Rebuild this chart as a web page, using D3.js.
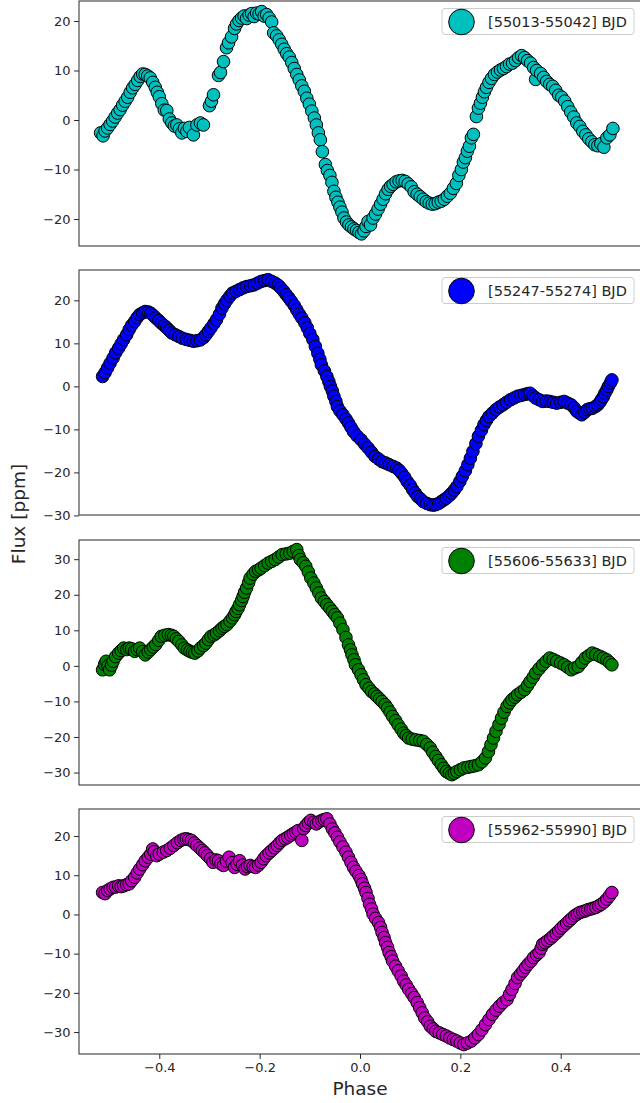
<!DOCTYPE html>
<html><head><meta charset="utf-8">
<script src="https://cdn.jsdelivr.net/npm/d3@7"></script>
<style>body{margin:0;background:#fff}svg{display:block}</style>
</head><body>
<svg id="chart" width="640" height="1103"></svg>
<script>
// ---- Data ----
const phase1 = [-0.517,-0.512,-0.508,-0.503,-0.498,-0.493,-0.488,-0.483,-0.478,-0.473,-0.468,-0.463,-0.458,-0.453,-0.448,-0.443,-0.438,-0.433,-0.428,-0.423,-0.418,-0.413,-0.408,-0.404,-0.400,-0.395,-0.390,-0.385,-0.380,-0.375,-0.370,-0.365,-0.360,-0.355,-0.350,-0.345,-0.340,-0.332,-0.325,-0.318,-0.312,-0.300,-0.296,-0.292,-0.282,-0.278,-0.272,-0.266,-0.262,-0.256,-0.250,-0.246,-0.241,-0.236,-0.231,-0.226,-0.221,-0.216,-0.211,-0.206,-0.201,-0.196,-0.191,-0.186,-0.181,-0.176,-0.172,-0.166,-0.161,-0.156,-0.151,-0.146,-0.141,-0.136,-0.131,-0.126,-0.121,-0.116,-0.111,-0.106,-0.101,-0.096,-0.091,-0.087,-0.083,-0.079,-0.075,-0.069,-0.065,-0.060,-0.056,-0.052,-0.048,-0.044,-0.040,-0.036,-0.032,-0.027,-0.022,-0.017,-0.012,-0.007,-0.002,0.003,0.008,0.012,0.016,0.021,0.026,0.031,0.036,0.041,0.046,0.051,0.056,0.061,0.066,0.072,0.078,0.084,0.090,0.096,0.102,0.108,0.114,0.120,0.126,0.132,0.138,0.144,0.150,0.156,0.162,0.168,0.174,0.180,0.186,0.192,0.197,0.202,0.206,0.210,0.214,0.218,0.222,0.226,0.232,0.236,0.240,0.244,0.248,0.252,0.257,0.262,0.268,0.274,0.280,0.286,0.292,0.298,0.304,0.310,0.316,0.322,0.328,0.334,0.340,0.346,0.350,0.352,0.360,0.366,0.372,0.378,0.384,0.390,0.396,0.402,0.408,0.414,0.420,0.426,0.432,0.438,0.444,0.450,0.456,0.462,0.468,0.474,0.480,0.486,0.492,0.498,0.504];
const flux1 = [-2.6,-3.2,-2.2,-1.6,-0.9,-0.2,0.6,1.4,2.1,3.0,3.8,4.6,5.6,6.5,7.2,8.0,8.8,9.3,9.2,8.9,8.5,7.6,6.6,5.6,4.7,3.3,2.0,1.9,0.2,-0.6,-1.2,-1.0,-1.8,-2.6,-1.7,-2.3,-1.5,-3.0,-1.0,-0.6,-1.0,2.9,3.8,5.1,9.0,9.6,11.8,14.6,15.6,16.8,18.5,19.4,20.1,20.6,21.0,20.5,21.2,21.5,20.9,21.6,21.4,21.9,21.0,21.3,20.6,19.8,17.6,17.0,16.2,15.3,14.3,13.4,12.7,11.6,10.4,9.2,8.1,6.9,5.8,4.4,3.2,1.8,0.4,-1.0,-2.6,-4.0,-6.4,-9.0,-10.2,-11.2,-12.6,-14.4,-15.6,-16.6,-17.6,-18.6,-19.8,-20.6,-21.2,-21.6,-22.0,-22.3,-22.7,-23.0,-22.4,-21.5,-20.5,-21.2,-19.8,-19.0,-18.0,-17.0,-16.0,-14.9,-14.0,-13.4,-13.0,-12.5,-12.3,-12.2,-12.4,-12.9,-13.5,-14.5,-15.0,-15.5,-16.0,-16.5,-16.8,-17.0,-16.9,-16.6,-16.4,-16.0,-15.4,-14.8,-13.8,-12.8,-11.2,-10.0,-8.5,-7.6,-6.3,-5.3,-3.6,-2.9,0.7,2.4,3.4,4.6,5.7,6.6,7.6,8.4,9.2,9.7,10.1,10.4,10.8,11.3,11.5,12.0,12.6,13.0,12.6,12.0,11.5,10.6,8.2,10.0,9.4,8.6,7.8,7.2,6.8,6.0,5.0,4.6,3.8,2.7,1.6,0.6,-0.6,-1.3,-2.3,-3.0,-3.8,-4.4,-5.0,-5.2,-4.8,-5.5,-3.6,-3.0,-1.7];

const phase2 = [-0.513,-0.508,-0.503,-0.498,-0.492,-0.487,-0.481,-0.476,-0.471,-0.465,-0.460,-0.455,-0.449,-0.444,-0.439,-0.433,-0.428,-0.422,-0.417,-0.412,-0.407,-0.401,-0.396,-0.390,-0.385,-0.380,-0.375,-0.368,-0.361,-0.354,-0.346,-0.339,-0.332,-0.325,-0.318,-0.312,-0.307,-0.302,-0.297,-0.291,-0.286,-0.280,-0.275,-0.270,-0.265,-0.259,-0.254,-0.247,-0.240,-0.233,-0.226,-0.218,-0.211,-0.204,-0.197,-0.190,-0.183,-0.176,-0.169,-0.163,-0.158,-0.152,-0.147,-0.142,-0.137,-0.131,-0.126,-0.121,-0.116,-0.110,-0.105,-0.100,-0.094,-0.089,-0.084,-0.080,-0.077,-0.071,-0.066,-0.062,-0.059,-0.055,-0.052,-0.048,-0.045,-0.040,-0.034,-0.028,-0.023,-0.018,-0.013,-0.006,0.002,0.009,0.016,0.023,0.030,0.037,0.044,0.051,0.058,0.066,0.073,0.078,0.083,0.089,0.094,0.100,0.105,0.110,0.115,0.121,0.126,0.133,0.140,0.146,0.151,0.157,0.162,0.167,0.172,0.178,0.183,0.188,0.193,0.199,0.204,0.210,0.215,0.220,0.225,0.231,0.236,0.242,0.247,0.252,0.257,0.264,0.271,0.278,0.285,0.292,0.300,0.307,0.314,0.321,0.328,0.334,0.339,0.345,0.350,0.357,0.364,0.371,0.378,0.385,0.392,0.400,0.407,0.414,0.421,0.427,0.432,0.437,0.442,0.448,0.453,0.458,0.463,0.469,0.474,0.478,0.481,0.485,0.488,0.492,0.495,0.499,0.502];
const flux2 = [2.3,3.2,4.3,5.4,6.6,7.8,8.9,9.9,10.9,12.0,13.2,14.2,15.1,16.0,16.7,17.1,17.4,17.3,17.0,16.5,15.9,15.3,14.7,14.1,13.6,13.0,12.4,12.0,11.6,11.2,10.9,10.7,10.5,10.6,10.8,11.3,12.0,12.8,13.6,14.6,15.5,16.8,18.2,19.2,20.1,21.0,21.7,22.1,22.5,22.9,23.2,23.4,23.6,24.0,24.4,24.6,24.8,24.4,24.0,23.5,22.9,22.1,21.3,20.6,19.8,18.8,17.8,16.8,15.9,14.8,13.6,12.3,10.9,9.3,7.7,6.3,5.0,3.6,2.3,1.1,0.0,-1.1,-2.3,-3.5,-4.7,-5.7,-6.6,-7.6,-8.5,-9.5,-10.5,-11.5,-12.4,-13.4,-14.3,-15.3,-16.3,-16.9,-17.5,-17.8,-18.2,-18.6,-19.0,-19.5,-20.2,-21.1,-22.1,-23.0,-24.0,-24.8,-25.6,-26.2,-26.8,-27.2,-27.5,-27.6,-27.5,-27.2,-26.8,-26.4,-26.0,-25.4,-24.8,-24.1,-23.3,-22.1,-20.9,-19.6,-18.2,-16.7,-15.1,-13.3,-11.6,-10.2,-8.9,-7.9,-7.0,-6.2,-5.4,-4.8,-4.3,-3.7,-3.1,-2.7,-2.3,-2.1,-1.9,-1.7,-1.6,-2.2,-2.7,-3.1,-3.5,-3.4,-3.5,-3.7,-3.9,-3.7,-3.5,-3.9,-4.3,-5.0,-5.8,-6.2,-6.6,-6.0,-5.4,-5.2,-5.1,-4.7,-4.3,-3.7,-3.1,-2.4,-1.6,-0.8,0.0,0.8,1.5];

const phase3 = [-0.513,-0.509,-0.506,-0.502,-0.499,-0.495,-0.492,-0.487,-0.481,-0.476,-0.471,-0.465,-0.460,-0.455,-0.449,-0.444,-0.439,-0.433,-0.428,-0.422,-0.417,-0.412,-0.407,-0.401,-0.396,-0.389,-0.382,-0.376,-0.371,-0.366,-0.361,-0.355,-0.350,-0.344,-0.339,-0.334,-0.329,-0.323,-0.318,-0.312,-0.307,-0.302,-0.297,-0.291,-0.286,-0.280,-0.275,-0.270,-0.265,-0.259,-0.254,-0.250,-0.247,-0.243,-0.240,-0.236,-0.233,-0.230,-0.226,-0.222,-0.219,-0.213,-0.208,-0.202,-0.197,-0.190,-0.183,-0.176,-0.169,-0.162,-0.155,-0.147,-0.140,-0.133,-0.126,-0.122,-0.119,-0.113,-0.108,-0.103,-0.098,-0.092,-0.087,-0.082,-0.077,-0.071,-0.066,-0.060,-0.055,-0.050,-0.045,-0.040,-0.034,-0.028,-0.023,-0.019,-0.016,-0.012,-0.009,-0.003,0.002,0.007,0.012,0.018,0.023,0.029,0.034,0.039,0.044,0.050,0.055,0.060,0.065,0.071,0.076,0.082,0.087,0.092,0.097,0.104,0.111,0.119,0.126,0.133,0.140,0.145,0.151,0.156,0.162,0.167,0.172,0.178,0.183,0.188,0.193,0.200,0.207,0.215,0.222,0.229,0.236,0.243,0.250,0.256,0.261,0.266,0.271,0.277,0.282,0.287,0.293,0.298,0.303,0.309,0.314,0.321,0.328,0.334,0.339,0.345,0.350,0.357,0.364,0.371,0.378,0.385,0.392,0.400,0.407,0.414,0.421,0.428,0.435,0.442,0.449,0.456,0.463,0.470,0.478,0.485,0.492,0.497,0.502];
const flux3 = [-1.1,0.4,1.3,0.0,-1.1,0.2,1.3,2.6,3.6,4.3,5.0,4.6,5.0,4.8,4.1,4.6,5.0,4.0,3.1,3.9,4.6,5.3,6.0,7.2,8.3,8.6,8.8,8.6,8.3,7.6,6.9,5.9,5.0,4.5,4.1,3.8,3.6,4.2,5.0,5.7,6.4,7.4,8.3,8.7,9.2,9.9,10.6,11.1,11.6,12.6,13.5,14.4,15.3,16.2,17.2,18.4,19.5,20.7,21.9,23.4,24.7,25.8,26.6,27.0,27.5,28.2,28.9,29.4,29.9,30.6,31.3,31.5,31.7,32.2,32.7,31.0,29.9,29.0,28.0,26.4,24.7,23.3,21.9,20.5,19.1,18.1,17.2,16.2,15.3,14.4,13.5,12.0,10.2,8.0,5.9,4.5,3.1,1.7,0.3,-1.1,-2.5,-3.9,-5.3,-6.3,-7.2,-7.9,-8.6,-9.3,-10.0,-10.9,-11.9,-13.0,-14.2,-15.4,-16.6,-17.8,-18.9,-19.6,-20.3,-20.6,-20.8,-21.0,-21.2,-22.1,-23.1,-24.3,-25.5,-26.6,-27.8,-28.8,-29.7,-30.2,-30.6,-30.2,-29.7,-29.2,-28.7,-28.5,-28.3,-28.1,-27.8,-27.0,-25.9,-24.1,-22.2,-20.3,-18.4,-16.5,-14.7,-13.0,-11.4,-10.4,-9.5,-8.8,-8.1,-7.4,-6.7,-5.5,-4.4,-3.2,-2.0,-0.8,0.3,1.3,2.2,1.8,1.3,0.8,0.3,-0.4,-1.1,-0.6,-0.2,1.0,2.2,2.9,3.6,3.2,2.7,2.2,1.7,1.0,0.3];

const phase4 = [-0.513,-0.508,-0.503,-0.498,-0.492,-0.487,-0.481,-0.476,-0.471,-0.465,-0.460,-0.455,-0.449,-0.444,-0.439,-0.433,-0.428,-0.422,-0.417,-0.413,-0.410,-0.405,-0.400,-0.392,-0.385,-0.378,-0.371,-0.364,-0.357,-0.351,-0.346,-0.341,-0.336,-0.330,-0.325,-0.319,-0.314,-0.309,-0.304,-0.298,-0.293,-0.287,-0.282,-0.277,-0.272,-0.266,-0.261,-0.255,-0.250,-0.245,-0.240,-0.234,-0.229,-0.224,-0.219,-0.213,-0.208,-0.202,-0.197,-0.192,-0.187,-0.181,-0.176,-0.170,-0.165,-0.160,-0.155,-0.149,-0.144,-0.138,-0.133,-0.128,-0.123,-0.116,-0.112,-0.108,-0.103,-0.098,-0.092,-0.087,-0.082,-0.076,-0.071,-0.066,-0.060,-0.055,-0.050,-0.045,-0.040,-0.034,-0.028,-0.023,-0.018,-0.013,-0.008,-0.002,0.002,0.005,0.009,0.012,0.016,0.019,0.023,0.026,0.031,0.037,0.041,0.044,0.048,0.051,0.055,0.058,0.062,0.065,0.071,0.076,0.082,0.087,0.092,0.097,0.103,0.108,0.114,0.119,0.124,0.129,0.135,0.140,0.146,0.151,0.158,0.165,0.172,0.179,0.186,0.193,0.200,0.207,0.214,0.222,0.229,0.236,0.243,0.250,0.257,0.264,0.271,0.278,0.285,0.293,0.298,0.303,0.309,0.314,0.320,0.325,0.330,0.335,0.341,0.346,0.352,0.357,0.361,0.364,0.369,0.374,0.380,0.385,0.391,0.396,0.401,0.406,0.412,0.417,0.422,0.428,0.433,0.438,0.444,0.449,0.454,0.460,0.465,0.470,0.476,0.481,0.487,0.492,0.497,0.502];
const flux4 = [5.6,5.3,6.1,6.5,6.9,7.0,7.3,7.1,7.3,7.6,7.8,8.6,9.5,10.6,11.6,12.7,13.7,14.6,15.4,16.7,16.0,15.0,15.4,15.9,16.3,16.9,17.6,18.3,18.9,19.2,19.3,19.1,18.9,18.2,17.6,16.9,16.3,15.7,15.0,14.2,13.3,13.9,13.7,12.9,12.5,13.6,14.6,13.2,12.0,12.8,13.7,12.6,11.6,12.2,12.5,12.2,12.0,12.6,13.3,14.2,15.0,15.7,16.3,17.0,17.6,18.3,18.9,19.3,19.7,20.2,20.6,21.0,21.4,18.9,21.9,22.7,23.4,24.0,23.5,23.1,23.6,24.0,24.2,24.4,23.1,21.8,20.8,19.7,18.5,17.2,15.9,14.6,13.3,12.0,11.0,9.9,8.9,7.8,6.7,5.6,4.1,2.6,1.4,0.1,-1.0,-2.1,-3.3,-4.6,-5.9,-7.2,-8.4,-9.7,-10.8,-11.9,-13.2,-14.4,-15.7,-17.0,-18.0,-19.1,-20.2,-21.2,-22.5,-23.8,-25.1,-26.4,-27.4,-28.5,-29.2,-29.8,-30.2,-30.6,-31.0,-31.5,-31.9,-32.3,-32.8,-33.2,-32.8,-32.3,-31.5,-30.6,-29.4,-28.1,-26.8,-25.5,-24.4,-23.4,-22.5,-21.7,-20.4,-19.1,-17.6,-16.1,-15.2,-14.4,-13.5,-12.7,-11.9,-11.0,-10.3,-9.7,-8.6,-7.6,-7.2,-6.7,-6.1,-5.5,-4.8,-4.2,-3.5,-2.9,-2.2,-1.6,-1.0,-0.3,0.1,0.5,0.7,0.9,1.2,1.4,1.6,1.8,2.2,2.6,3.2,3.9,4.7,5.6];

const legendLabels = ["[55013-55042] BJD","[55247-55274] BJD","[55606-55633] BJD","[55962-55990] BJD"];
const seriesColors = ["#00bfbf","#0000ff","#008000","#bf00bf"];
const yDomains = [[-25.45,24.04],[-29.9,27.05],[-33.5,35.4],[-35.6,26.9]];
const yTicks = [[-20,-10,0,10,20],[-30,-20,-10,0,10,20],[-30,-20,-10,0,10,20,30],[-30,-20,-10,0,10,20]];
const xTicks = [-0.4,-0.2,0.0,0.2,0.4];
const xDomain = [-0.56,0.56];

const phases = [phase1,phase2,phase3,phase4];
const fluxes = [flux1,flux2,flux3,flux4];

// ---- Layout ----
const left = 79, right = 641, panelTops = [1,270,540,809], panelH = 245;
const svg = d3.select("#chart");
const x = d3.scaleLinear().domain(xDomain).range([left,right]);
const fmt = v => (v<0?"\u2212":"") + Math.abs(v);
const fmtX = v => (v<0?"\u2212":"") + Math.abs(v).toFixed(1);
const font = "DejaVu Sans, sans-serif";
const ink = "#262626";

panelTops.forEach((top,i)=>{
  const y = d3.scaleLinear().domain(yDomains[i]).range([top+panelH, top]);
  const g = svg.append("g");
  const clipId = "clip"+i;
  svg.append("defs").append("clipPath").attr("id",clipId)
    .append("rect").attr("x",left).attr("y",top).attr("width",right-left).attr("height",panelH);

  const pts = phases[i].map((p,k)=>({p, f:fluxes[i][k]}));
  g.append("g").attr("clip-path",`url(#${clipId})`)
    .selectAll("circle").data(pts).join("circle")
    .attr("cx",d=>x(d.p)).attr("cy",d=>y(d.f)).attr("r",6.3)
    .attr("fill",seriesColors[i]).attr("stroke","#000").attr("stroke-width",1);

  // y axis
  const ya = g.append("g").attr("transform",`translate(${left},0)`)
    .call(d3.axisLeft(y).tickValues(yTicks[i]).tickFormat(fmt).tickSize(4.9).tickPadding(3.5));
  ya.select(".domain").remove();
  ya.selectAll("line").attr("stroke",ink).attr("stroke-width",1);
  ya.selectAll("text").attr("fill",ink).style("font-family",font).style("font-size","13px");

  if(i===3){
    const xa = g.append("g").attr("transform",`translate(0,${top+panelH})`)
      .call(d3.axisBottom(x).tickValues(xTicks).tickFormat(fmtX).tickSize(4.9).tickPadding(3.5));
    xa.select(".domain").remove();
    xa.selectAll("line").attr("stroke",ink).attr("stroke-width",1);
    xa.selectAll("text").attr("fill",ink).style("font-family",font).style("font-size","13px");
  }

  // frame
  g.append("rect").attr("x",left).attr("y",top).attr("width",right-left).attr("height",panelH)
    .attr("fill","none").attr("stroke",ink).attr("stroke-width",1);

  // legend
  const lg = g.append("g").attr("transform",`translate(442,${top+7.5})`);
  lg.append("rect").attr("width",192).attr("height",26).attr("rx",3)
    .attr("fill","#fff").attr("fill-opacity",0.8).attr("stroke","#cccccc").attr("stroke-width",1);
  lg.append("circle").attr("cx",19.5).attr("cy",13.5).attr("r",12.8)
    .attr("fill",seriesColors[i]).attr("stroke","#000").attr("stroke-width",1);
  lg.append("text").attr("x",46).attr("y",13.5).attr("dy","0.36em")
    .attr("fill",ink).style("font-family",font).style("font-size","14.5px").text(legendLabels[i]);
});

// axis labels
svg.append("text").attr("transform","translate(18,514) rotate(-90)")
  .attr("text-anchor","middle").attr("dy","0.36em").attr("fill",ink)
  .style("font-family",font).style("font-size","18.5px").text("Flux [ppm]");
svg.append("text").attr("x",360).attr("y",1088).attr("text-anchor","middle").attr("dy","0.36em")
  .attr("fill",ink).style("font-family",font).style("font-size","18.5px").text("Phase");
</script>
</body></html>
